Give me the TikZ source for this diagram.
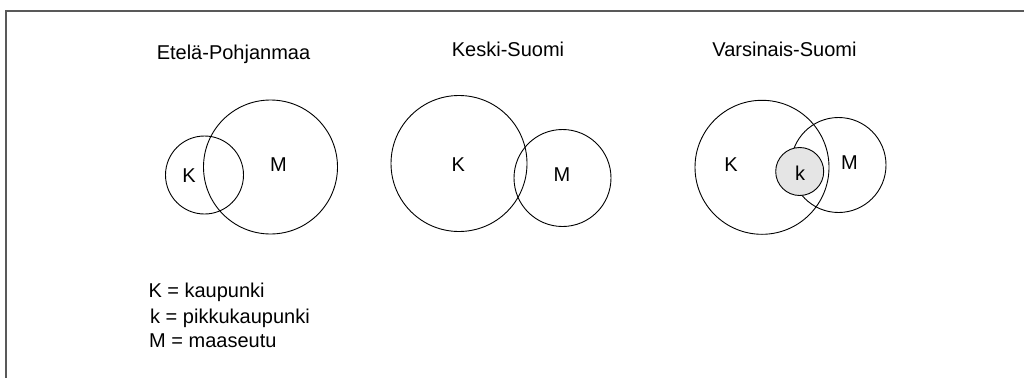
\documentclass[tikz,border=0pt]{standalone}
\usepackage{fontspec}
\setmainfont{Liberation Sans}
\usepackage{tikz}

\begin{document}
\begin{tikzpicture}[x=1pt, y=-1pt,
    ring/.style={circle, draw, line width=0.9pt, inner sep=0pt},
    lbl/.style={anchor=base, inner sep=0pt, font=\fontsize{20}{24}\selectfont},
    key/.style={lbl, anchor=base west}]
    \useasboundingbox (0,0) rectangle (1024,377);
    \clip (0,0) rectangle (1024,377);

    % Frame
    \draw[line width=1.4pt, black!65] (6,11) rectangle (1040,400);

    % Titles
    \node[lbl] (ep) at (233.5,60) {Etelä-Pohjanmaa};
    \node[lbl] (ks) at (508,57) {Keski-Suomi};
    \node[lbl] (vs) at (784.5,57) {Varsinais-Suomi};

    % Etelä-Pohjanmaa
    \node[ring, minimum size=78pt] (epK) at (204.5,175) {};
    \node[ring, minimum size=134pt] (epM) at (270.5,167) {};
    \node[lbl] (epk) at (189,182.7) {K};
    \node[lbl] (epm) at (278.5,171) {M};

    % Keski-Suomi
    \node[ring, minimum size=136pt] (ksK) at (459,163.5) {};
    \node[ring, minimum size=97pt] (ksM) at (562.5,178) {};
    \node[lbl] (ksk) at (458.3,171) {K};
    \node[lbl] (ksm) at (562,181.7) {M};

    % Varsinais-Suomi
    \node[ring, minimum size=134pt] (vsK) at (762,167.3) {};
    \node[ring, minimum size=95pt] (vsM) at (838.5,165) {};
    \node[ring, fill=black!10, minimum size=48pt] (vsS) at (799.7,171.5) {};
    \node[lbl] (vsk) at (731,171) {K};
    \node[lbl] (vsm) at (849.5,169) {M};
    \node[lbl] (vss) at (800,180) {k};

    % Legend
    \node[key] (l1) at (148.3,297) {K = kaupunki};
    \node[key] (l2) at (150,323.3) {k = pikkukaupunki};
    \node[key] (l3) at (149,347.3) {M = maaseutu};
\end{tikzpicture}
\end{document}
